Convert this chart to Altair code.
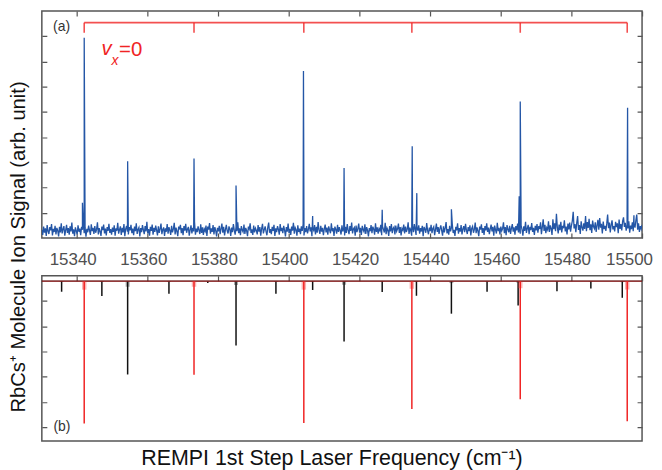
import altair as alt
import pandas as pd

# ---------------- data ----------------
X_MIN, X_MAX = 15330.0, 15500.0
NOISE_START = 15330.0
NOISE_STEP = 0.25

# (a) measured ion signal: baseline noise, one value every 0.25 cm-1 (15330 ... 15500)
noise_a = [
    0.32, 0.12, 0.45, 0.21, 0.38, 0.08, 0.51, 0.27, 0.16, 0.43, 0.30, 0.55, 0.10, 0.36, 0.24, 0.48, 0.14, 0.40, 0.29, 0.06,
    0.44, 0.22, 0.58, 0.18, 0.35, 0.47, 0.09, 0.31, 0.52, 0.20, 0.39, 0.13, 0.46, 0.26, 0.61, 0.17, 0.34, 0.07, 0.42, 0.28,
    0.15, 0.50, 0.25, 0.37, 0.11, 0.44, 0.33, 0.57, 0.19, 0.41, 0.05, 0.36, 0.23, 0.49, 0.30, 0.12, 0.54, 0.27, 0.40, 0.16,
    0.47, 0.21, 0.34, 0.62, 0.14, 0.39, 0.26, 0.08, 0.45, 0.31, 0.53, 0.18, 0.37, 0.10, 0.43, 0.28, 0.56, 0.20, 0.35, 0.13,
    0.41, 0.24, 0.50, 0.09, 0.38, 0.29, 0.60, 0.17, 0.33, 0.46, 0.12, 0.40, 0.22, 0.55, 0.07, 0.36, 0.48, 0.25, 0.14, 0.43,
    0.30, 0.52, 0.19, 0.37, 0.11, 0.45, 0.27, 0.58, 0.16, 0.34, 0.42, 0.06, 0.39, 0.23, 0.51, 0.32, 0.15, 0.47, 0.26, 0.64,
    0.18, 0.35, 0.09, 0.44, 0.28, 0.53, 0.13, 0.40, 0.24, 0.49, 0.31, 0.10, 0.46, 0.20, 0.37, 0.57, 0.15, 0.33, 0.42, 0.08,
    0.38, 0.25, 0.55, 0.17, 0.43, 0.30, 0.12, 0.48, 0.22, 0.36, 0.60, 0.14, 0.41, 0.27, 0.07, 0.45, 0.34, 0.52, 0.19, 0.39,
    0.11, 0.47, 0.29, 0.56, 0.21, 0.35, 0.44, 0.09, 0.32, 0.50, 0.18, 0.40, 0.26, 0.63, 0.13, 0.37, 0.23, 0.46, 0.31, 0.16,
    0.54, 0.20, 0.42, 0.12, 0.36, 0.27, 0.49, 0.08, 0.45, 0.33, 0.59, 0.17, 0.38, 0.24, 0.51, 0.14, 0.43, 0.29, 0.06, 0.40,
    0.26, 0.48, 0.15, 0.37, 0.57, 0.21, 0.44, 0.10, 0.33, 0.52, 0.28, 0.18, 0.46, 0.35, 0.08, 0.41, 0.23, 0.55, 0.31, 0.13,
    0.43, 0.27, 0.62, 0.19, 0.38, 0.11, 0.47, 0.32, 0.24, 0.53, 0.16, 0.40, 0.29, 0.07, 0.45, 0.36, 0.58, 0.20, 0.34, 0.12,
    0.49, 0.22, 0.39, 0.30, 0.14, 0.51, 0.25, 0.43, 0.09, 0.37, 0.56, 0.18, 0.33, 0.46, 0.26, 0.11, 0.42, 0.61, 0.21, 0.35,
    0.15, 0.44, 0.28, 0.52, 0.08, 0.38, 0.23, 0.47, 0.34, 0.13, 0.55, 0.27, 0.40, 0.19, 0.48, 0.31, 0.06, 0.43, 0.25, 0.57,
    0.20, 0.36, 0.12, 0.45, 0.29, 0.60, 0.17, 0.41, 0.33, 0.09, 0.50, 0.24, 0.37, 0.15, 0.46, 0.28, 0.54, 0.10, 0.39, 0.23,
    0.47, 0.18, 0.35, 0.56, 0.26, 0.42, 0.07, 0.38, 0.30, 0.51, 0.14, 0.44, 0.21, 0.63, 0.32, 0.16, 0.48, 0.25, 0.40, 0.11,
    0.36, 0.53, 0.22, 0.41, 0.13, 0.46, 0.31, 0.19, 0.58, 0.27, 0.39, 0.08, 0.45, 0.34, 0.17, 0.52, 0.24, 0.43, 0.29, 0.14,
    0.50, 0.26, 0.38, 0.10, 0.44, 0.20, 0.55, 0.32, 0.15, 0.47, 0.28, 0.61, 0.18, 0.36, 0.42, 0.09, 0.49, 0.23, 0.37, 0.57,
    0.21, 0.40, 0.12, 0.48, 0.33, 0.25, 0.54, 0.16, 0.43, 0.30, 0.06, 0.39, 0.27, 0.51, 0.19, 0.45, 0.35, 0.13, 0.58, 0.24,
    0.42, 0.17, 0.37, 0.29, 0.52, 0.11, 0.46, 0.34, 0.22, 0.60, 0.15, 0.40, 0.31, 0.08, 0.47, 0.26, 0.55, 0.19, 0.38, 0.44,
    0.14, 0.49, 0.27, 0.36, 0.57, 0.20, 0.43, 0.10, 0.38, 0.31, 0.53, 0.18, 0.45, 0.24, 0.35, 0.62, 0.16, 0.41, 0.28, 0.09,
    0.46, 0.23, 0.55, 0.33, 0.12, 0.42, 0.29, 0.50, 0.17, 0.39, 0.26, 0.48, 0.07, 0.44, 0.35, 0.21, 0.59, 0.30, 0.15, 0.41,
    0.27, 0.52, 0.19, 0.38, 0.45, 0.11, 0.34, 0.57, 0.24, 0.43, 0.16, 0.37, 0.50, 0.29, 0.09, 0.46, 0.22, 0.40, 0.63, 0.18,
    0.35, 0.13, 0.48, 0.26, 0.41, 0.55, 0.20, 0.32, 0.08, 0.44, 0.30, 0.58, 0.17, 0.39, 0.25, 0.51, 0.14, 0.36, 0.47, 0.23,
    0.56, 0.31, 0.16, 0.43, 0.27, 0.50, 0.10, 0.38, 0.46, 0.21, 0.34, 0.61, 0.19, 0.42, 0.28, 0.07, 0.45, 0.33, 0.54, 0.20,
    0.39, 0.12, 0.47, 0.30, 0.58, 0.24, 0.41, 0.15, 0.36, 0.53, 0.26, 0.44, 0.09, 0.49, 0.32, 0.18, 0.60, 0.27, 0.40, 0.14,
    0.45, 0.28, 0.37, 0.62, 0.19, 0.43, 0.11, 0.51, 0.34, 0.23, 0.48, 0.16, 0.39, 0.55, 0.25, 0.42, 0.13, 0.47, 0.30, 0.57,
    0.22, 0.41, 0.17, 0.50, 0.33, 0.09, 0.46, 0.28, 0.64, 0.20, 0.38, 0.52, 0.15, 0.44, 0.31, 0.59, 0.24, 0.40, 0.12, 0.48,
    0.30, 0.55, 0.21, 0.47, 0.36, 0.62, 0.15, 0.44, 0.74, 0.28, 0.52, 0.19, 0.41, 0.33, 0.66, 0.24, 0.50, 0.37, 0.12, 0.74,
    0.35, 0.58, 0.27, 0.96, 0.43, 0.18, 0.53, 0.31, 0.64, 0.22, 0.48, 0.39, 0.70, 0.26, 0.45, 0.14, 0.57, 0.34, 0.61, 0.25,
    0.49, 0.68, 1.04, 0.38, 0.55, 0.23, 0.60, 0.87, 0.32, 0.51, 0.16, 0.66, 0.42, 0.29, 0.58, 0.36, 0.87, 0.27, 0.63, 0.40,
    0.76, 0.31, 0.54, 0.20, 0.69, 0.45, 0.37, 0.62, 0.24, 0.50, 0.72, 0.33, 0.79, 0.41, 0.56, 0.18, 0.65, 0.35, 0.48, 0.28,
    0.57, 0.93, 0.39, 0.61, 0.22, 0.52, 0.70, 0.34, 0.47, 0.26, 0.64, 0.43, 0.58, 0.19, 0.73, 0.36, 0.55, 0.30, 0.67, 0.82,
    0.44, 0.60, 0.29, 0.51, 0.38, 0.66, 0.21, 0.49, 0.35, 0.62, 0.27, 0.55, 0.41, 0.70, 0.93, 0.33, 0.58, 0.24, 0.47, 0.36,
    0.52,
]

# (a) resonance peaks (position cm-1, height)
peak_pos_a = [15341.5, 15342.0, 15354.3, 15373.1, 15385.0, 15404.1, 15406.7, 15415.6,
              15426.4, 15434.9, 15436.2, 15446.0, 15465.2, 15465.5, 15495.9, 15497.7]
peak_h_a = [1.40, 7.94, 3.04, 3.15, 2.08, 6.62, 0.87, 2.78,
            1.12, 3.64, 1.78, 1.14, 1.66, 5.41, 5.17, 0.90]

# (b) simulated lines: v_x = 0 progression (red) and other lines (black)
vx0_pos = [15342.0, 15373.1, 15404.2, 15434.8, 15465.5, 15495.8]
vx0_int = [5.64, 3.71, 5.62, 5.07, 4.68, 5.55]
other_pos = [15335.6, 15347.0, 15354.3, 15366.0, 15377.0, 15385.0, 15396.3, 15406.7, 15415.6,
             15426.4, 15436.1, 15446.0, 15456.1, 15464.9, 15475.9, 15485.5, 15494.4]
other_int = [0.42, 0.59, 3.70, 0.50, 0.07, 2.55, 0.50, 0.35, 2.39,
             0.43, 0.58, 1.29, 0.42, 0.97, 0.40, 0.29, 0.66]

x_ticks = [15340, 15360, 15380, 15400, 15420, 15440, 15460, 15480, 15500]
y_ticks_a = [1, 2, 3, 4, 5, 6, 7, 8]
y_ticks_b = [1, 2, 3, 4, 5, 6]

# ---------------- layout / style constants ----------------
W, H_TOP, H_BOT = 603, 228, 166
Y_A = [0, 9]
Y_B = [6.55, 0]          # inverted (depth grows downward)
BASE_B = 0.21
WING = 0.06              # visible share of a line's depth in its broadened foot
COMB_Y, COMB_TICK = 8.54, 8.14
FONT = "Liberation Sans"
FRAME = "#555555"
BLUE = "#2456a6"
RED = "#f02424"

# ---------------- tables ----------------
noise_df = pd.DataFrame({
    "x": [NOISE_START + i * NOISE_STEP for i in range(len(noise_a))],
    "y": noise_a,
})
peak_df = pd.DataFrame({"x": peak_pos_a, "y": peak_h_a})
sig_df = pd.concat([noise_df, peak_df]).sort_values("x", kind="mergesort").reset_index(drop=True)

comb_bar = pd.DataFrame({"x": [vx0_pos[0]], "x2": [vx0_pos[-1]], "y": [COMB_Y]})
comb_ticks = pd.DataFrame({"x": vx0_pos, "y": [COMB_Y] * len(vx0_pos), "y2": [COMB_TICK] * len(vx0_pos)})

red_df = pd.DataFrame({"x": vx0_pos, "y": [BASE_B] * len(vx0_pos),
                       "y2": [BASE_B + v for v in vx0_int],
                       "yw": [BASE_B + WING * v for v in vx0_int]})
blk_df = pd.DataFrame({"x": other_pos, "y": [BASE_B] * len(other_pos),
                       "y2": [BASE_B + v for v in other_int],
                       "yw": [BASE_B + WING * v for v in other_int]})
base_df = pd.DataFrame({"x": [X_MIN], "x2": [X_MAX], "y": [BASE_B]})

xs = alt.Scale(domain=[X_MIN, X_MAX], nice=False, zero=False)
ysa = alt.Scale(domain=Y_A, nice=False, zero=False)
ysb = alt.Scale(domain=Y_B, nice=False, zero=False)

grid_common = dict(domain=False, ticks=False, grid=True, gridColor=FRAME,
                   gridWidth=1.2, gridOpacity=1)

x_axis_a = alt.Axis(values=x_ticks, labels=True, title=None, format="d",
                    gridDash=[5, H_TOP - 10, 5, 2000],
                    labelFont=FONT, labelFontSize=17, labelColor="#505050",
                    labelPadding=14, labelOffset=-4.5,
                    labelFlush=True, labelFlushOffset=15,
                    labelOverlap=False, **grid_common)
y_axis_a = alt.Axis(values=y_ticks_a, labels=False,
                    title="RbCs⁺ Molecule Ion Signal (arb. unit)",
                    titleX=-23, titleY=236.5, titleAngle=270, titleAlign="center",
                    titleBaseline="middle", titleFont=FONT, titleFontSize=20.3,
                    titleFontWeight="normal", titleColor="#111111",
                    gridDash=[5, W - 10, 5, 2000], **grid_common)
x_axis_b = alt.Axis(values=x_ticks, labels=False,
                    title="REMPI 1st Step Laser Frequency (cm⁻¹)",
                    titleFont=FONT, titleFontSize=21.5, titleFontWeight="normal",
                    titleColor="#111111", titleX=291, titleAlign="center", titlePadding=7,
                    gridDash=[5, 2000], **grid_common)
y_axis_b = alt.Axis(values=y_ticks_b, labels=False, title=None,
                    gridDash=[5, W - 10, 5, 2000], **grid_common)

# ---------------- panel (a) ----------------
sig = alt.Chart(sig_df).mark_line(color=BLUE, strokeWidth=1.3, clip=True).encode(
    x=alt.X("x:Q", scale=xs, axis=x_axis_a),
    y=alt.Y("y:Q", scale=ysa, axis=y_axis_a),
)
cbar = alt.Chart(comb_bar).mark_rule(color=RED, strokeWidth=1.6, opacity=0.8).encode(
    x=alt.X("x:Q", scale=xs, axis=None), x2="x2:Q",
    y=alt.Y("y:Q", scale=ysa, axis=None),
)
ctick = alt.Chart(comb_ticks).mark_rule(color=RED, strokeWidth=1.6, opacity=0.8).encode(
    x=alt.X("x:Q", scale=xs, axis=None),
    y=alt.Y("y:Q", scale=ysa, axis=None), y2="y2:Q",
)

lab_a = pd.DataFrame({"x": [15335.6], "y": [8.37], "t": ["(a)"]})
txt_a = alt.Chart(lab_a).mark_text(font=FONT, fontSize=14, color="#333333",
                                   align="center", baseline="middle").encode(
    x=alt.X("x:Q", scale=xs, axis=None), y=alt.Y("y:Q", scale=ysa, axis=None), text="t:N")

v_df = pd.DataFrame({"x": [15346.9], "y": [7.25], "t": ["v"]})
sub_df = pd.DataFrame({"x": [15349.7], "y": [6.86], "t": ["x"]})
eq_df = pd.DataFrame({"x": [15351.85], "y": [7.22], "t": ["=0"]})
t_v = alt.Chart(v_df).mark_text(font=FONT, fontSize=20.5, fontStyle="italic", color=RED,
                                align="left", baseline="alphabetic").encode(
    x=alt.X("x:Q", scale=xs, axis=None), y=alt.Y("y:Q", scale=ysa, axis=None), text="t:N")
t_sub = alt.Chart(sub_df).mark_text(font=FONT, fontSize=14, fontStyle="italic", color=RED,
                                    align="left", baseline="alphabetic").encode(
    x=alt.X("x:Q", scale=xs, axis=None), y=alt.Y("y:Q", scale=ysa, axis=None), text="t:N")
t_eq = alt.Chart(eq_df).mark_text(font=FONT, fontSize=20.5, color=RED,
                                  align="left", baseline="alphabetic").encode(
    x=alt.X("x:Q", scale=xs, axis=None), y=alt.Y("y:Q", scale=ysa, axis=None), text="t:N")

top = alt.layer(sig, cbar, ctick, txt_a, t_v, t_sub, t_eq).resolve_axis(
    x="independent", y="independent").properties(width=W, height=H_TOP)

# ---------------- panel (b) ----------------
b_base_k = alt.Chart(base_df).mark_rule(color="#111111", strokeWidth=1.4).encode(
    x=alt.X("x:Q", scale=xs, axis=x_axis_b), x2="x2:Q",
    y=alt.Y("y:Q", scale=ysb, axis=y_axis_b),
)
b_blk_w = alt.Chart(blk_df).mark_rule(color="#111111", strokeWidth=4, opacity=0.35).encode(
    x=alt.X("x:Q", scale=xs, axis=None),
    y=alt.Y("y:Q", scale=ysb, axis=None), y2="yw:Q",
)
b_blk = alt.Chart(blk_df).mark_rule(color="#111111", strokeWidth=1.5).encode(
    x=alt.X("x:Q", scale=xs, axis=None),
    y=alt.Y("y:Q", scale=ysb, axis=None), y2="y2:Q",
)
b_base_r = alt.Chart(base_df).mark_rule(color=RED, strokeWidth=1.0, opacity=0.7).encode(
    x=alt.X("x:Q", scale=xs, axis=None), x2="x2:Q",
    y=alt.Y("y:Q", scale=ysb, axis=None),
)
b_red_w = alt.Chart(red_df).mark_rule(color=RED, strokeWidth=4.5, opacity=0.35).encode(
    x=alt.X("x:Q", scale=xs, axis=None),
    y=alt.Y("y:Q", scale=ysb, axis=None), y2="yw:Q",
)
b_red = alt.Chart(red_df).mark_rule(color=RED, strokeWidth=1.5).encode(
    x=alt.X("x:Q", scale=xs, axis=None),
    y=alt.Y("y:Q", scale=ysb, axis=None), y2="y2:Q",
)
lab_b = pd.DataFrame({"x": [15335.7], "y": [5.98], "t": ["(b)"]})
txt_b = alt.Chart(lab_b).mark_text(font=FONT, fontSize=14, color="#333333",
                                   align="center", baseline="middle").encode(
    x=alt.X("x:Q", scale=xs, axis=None), y=alt.Y("y:Q", scale=ysb, axis=None), text="t:N")

bottom = alt.layer(b_base_k, b_blk_w, b_blk, b_base_r, b_red_w, b_red, txt_b).resolve_axis(
    x="independent", y="independent").properties(width=W, height=H_BOT)

chart = alt.vconcat(top, bottom, spacing=38, bounds="flush").properties(
    padding={"left": 0, "top": 1, "right": 0, "bottom": 2}
).configure(font=FONT).configure_view(stroke=FRAME, strokeWidth=1.5)

chart.save("out.html", embed_options={"renderer": "svg", "actions": False})
